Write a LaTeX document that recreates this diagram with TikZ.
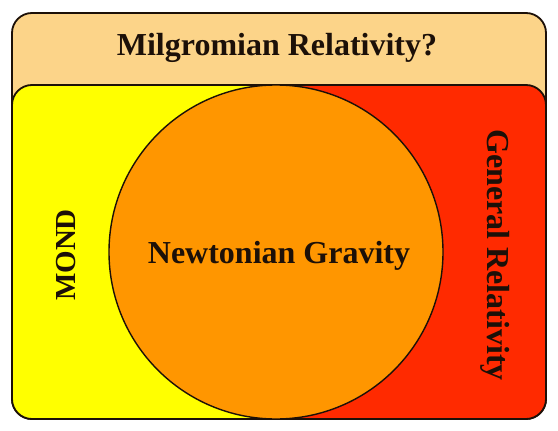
\documentclass[tikz,border=0pt]{standalone}
\usepackage{fontspec}
\setmainfont{Liberation Serif}
\usepackage{xcolor}
\definecolor{Sand}{HTML}{FCD489}
\definecolor{Lemon}{HTML}{FFFF00}
\definecolor{Scarlet}{HTML}{FF2A00}
\definecolor{Amber}{HTML}{FF9600}
\definecolor{Ink}{HTML}{1C1008}
\colorlet{sand}{Sand}
\colorlet{lemon}{Lemon}
\colorlet{scarlet}{Scarlet}
\colorlet{amber}{Amber}
\colorlet{ink}{Ink}
\usepackage{tikz}
\usetikzlibrary{positioning}

\begin{document}
\begin{tikzpicture}[x=1pt,y=-1pt, every node/.style={font=\bfseries\fontsize{32}{36}\selectfont,text=ink,align=center}, frame/.style={draw=ink,line width=1.8pt,rounded corners=20pt}]
\useasboundingbox (0,0) rectangle (558,431);
\draw[frame,fill=sand] (12,13) rectangle (546,419);
\begin{scope}
\clip[rounded corners=20pt] (12,85) rectangle (546,419);
\fill[lemon] (12,85) rectangle (276,419);
\fill[scarlet] (276,85) rectangle (546,419);
\end{scope}
\draw[frame] (12,85) rectangle (546,419);
\draw[draw=ink,line width=1.4pt,fill=amber] (276,252) circle (167pt);
\node[anchor=base] (title) at (277,56) {Milgromian Relativity?};
\node[anchor=base] (newton) at (279,263) {Newtonian Gravity};
\node[anchor=base,rotate=90,font=\bfseries\fontsize{29}{34}\selectfont] (mond) at (75,255) {MOND};
\node[anchor=base,rotate=-90] (gr) at (487,255) {General Relativity};
\end{tikzpicture}
\end{document}
